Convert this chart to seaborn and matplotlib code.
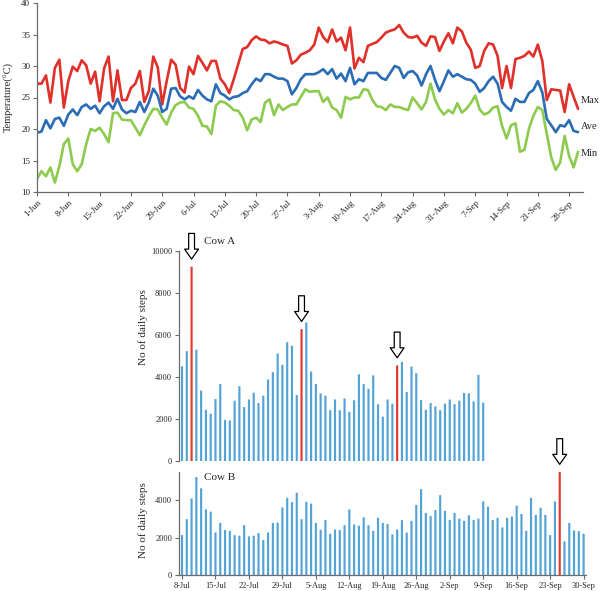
import matplotlib
matplotlib.use("Agg")
import matplotlib.pyplot as plt
import seaborn as sns
import pandas as pd
import numpy as np

# daily temperature, 1-Jun .. 30-Sep
temp_max = [27.2, 27.2, 28.5, 24.2, 29.7, 31.0, 23.4, 27.6, 29.9, 29.2,
            30.9, 30.1, 27.2, 29.1, 24.4, 29.6, 31.5, 24.4, 29.3, 24.6,
            24.6, 26.5, 27.2, 29.2, 24.3, 26.0, 31.5, 29.8, 23.9, 27.6,
            31.0, 30.2, 26.5, 25.8, 29.9, 28.7, 31.6, 30.5, 29.3, 30.8,
            30.8, 28.0, 27.1, 25.7, 27.9, 30.3, 32.7, 33.0, 34.1, 34.7,
            34.2, 34.1, 33.6, 33.9, 33.7, 33.4, 33.2, 30.4, 30.9, 31.8,
            32.1, 32.5, 33.4, 36.1, 34.6, 33.8, 35.8, 33.9, 34.5, 32.5,
            36.1, 29.6, 31.3, 30.6, 33.2, 33.5, 33.8, 34.5, 35.3, 35.6,
            35.8, 36.5, 35.3, 34.6, 34.5, 34.8, 33.7, 33.2, 34.7, 34.6,
            32.4, 33.9, 35.2, 33.6, 36.1, 35.5, 33.7, 32.6, 29.7, 30.0,
            32.4, 33.6, 33.4, 31.6, 26.5, 30.0, 26.5, 31.1, 31.3, 31.6,
            32.3, 31.5, 33.4, 30.8, 24.6, 26.3, 26.2, 26.1, 22.7, 27.1,
            25.1, 23.2]
temp_ave = [19.4, 19.6, 21.4, 20.1, 21.6, 21.8, 20.5, 22.3, 23.1, 22.2,
            23.5, 23.9, 23.2, 23.7, 22.5, 23.6, 24.2, 23.2, 24.8, 23.1,
            22.5, 22.9, 22.7, 24.3, 22.7, 24.2, 26.4, 25.3, 22.7, 23.2,
            26.4, 26.5, 25.2, 24.7, 25.2, 24.8, 26.2, 25.3, 24.7, 24.4,
            27.1, 25.7, 25.3, 24.7, 25.1, 25.2, 25.7, 26.0, 27.1, 28.0,
            27.6, 28.7, 28.7, 28.3, 28.0, 28.0, 27.6, 25.5, 26.5, 27.9,
            28.7, 28.7, 28.7, 29.0, 29.5, 28.7, 29.5, 28.0, 28.8, 27.6,
            29.7, 27.1, 27.9, 27.6, 28.9, 28.9, 28.9, 28.1, 27.8, 28.9,
            30.0, 29.7, 28.1, 29.0, 29.2, 28.5, 26.9, 28.7, 30.0, 27.8,
            26.0, 27.6, 29.3, 28.3, 28.7, 28.3, 27.9, 27.8, 27.2, 25.9,
            26.5, 27.6, 28.3, 27.2, 24.3, 23.5, 22.9, 24.8, 24.3, 24.3,
            25.7, 26.2, 27.6, 25.8, 21.6, 20.6, 19.5, 20.6, 20.4, 21.4,
            19.7, 19.5]
temp_min = [12.1, 13.3, 12.5, 13.9, 11.5, 14.1, 17.6, 18.5, 14.4, 13.3,
            14.4, 17.6, 20.0, 19.7, 20.2, 19.2, 17.9, 22.5, 22.6, 21.5,
            21.4, 21.4, 20.2, 19.0, 20.6, 22.0, 23.2, 23.1, 21.8, 20.7,
            22.6, 23.8, 24.2, 24.3, 23.4, 23.2, 22.1, 20.5, 20.4, 19.2,
            23.7, 24.4, 24.2, 23.7, 23.0, 22.9, 21.8, 19.8, 21.5, 21.8,
            21.1, 24.2, 24.7, 22.2, 23.9, 23.0, 23.5, 23.9, 23.9, 25.1,
            26.3, 25.9, 26.0, 26.0, 24.3, 25.0, 23.4, 23.0, 21.8, 25.1,
            24.7, 25.0, 25.0, 26.3, 26.2, 24.6, 23.6, 23.5, 23.0, 23.9,
            23.5, 23.5, 23.2, 23.0, 25.0, 24.1, 23.1, 24.3, 27.2, 24.7,
            23.2, 22.3, 23.0, 22.5, 24.1, 22.6, 23.2, 24.1, 25.3, 23.1,
            22.3, 22.6, 23.4, 23.6, 20.5, 18.5, 20.6, 20.9, 16.4, 16.7,
            20.0, 22.1, 23.5, 23.0, 19.2, 15.5, 13.5, 14.7, 18.9, 15.7,
            13.9, 16.4]
temp_ticks = ['1-Jun', '8-Jun', '15-Jun', '22-Jun', '29-Jun', '6-Jul', '13-Jul',
              '20-Jul', '27-Jul', '3-Aug', '10-Aug', '17-Aug', '24-Aug', '31-Aug',
              '7-Sep', '14-Sep', '21-Sep', '28-Sep']

# daily steps, from 8-Jul
cow_a_steps = [4510, 5230, 9250, 5300, 3350, 2440, 2250, 2950, 3670, 1960,
               1930, 2870, 3560, 2570, 2930, 3250, 2760, 3110, 3880, 4230,
               5120, 4580, 5660, 5490, 3140, 6280, 6600, 4260, 3670, 3220,
               3110, 2420, 2930, 2420, 2980, 2340, 2890, 4130, 3670, 3440,
               4080, 2700, 2110, 2930, 2730, 4550, 4720, 3290, 4500, 4180,
               2900, 2440, 2760, 2600, 2420, 2730, 2930, 2700, 2870, 3240,
               3220, 2840, 4100, 2780]
cow_a_alert = [2, 25, 45]
cow_b_steps = [2130, 2980, 4090, 5230, 4630, 3510, 3380, 2270, 2780, 2400,
               2360, 2130, 2100, 2660, 2060, 2100, 2240, 1870, 2270, 2780,
               2800, 3610, 4120, 3890, 4390, 2980, 3910, 3810, 2780, 2410,
               2940, 2200, 2430, 2400, 2660, 3510, 2700, 2630, 3080, 2660,
               2360, 3050, 2780, 2730, 2170, 2430, 2930, 2270, 2890, 3740,
               4580, 3310, 3150, 3470, 4260, 3420, 2940, 3310, 3010, 2890,
               3190, 2940, 3010, 3930, 3650, 2940, 3050, 2540, 3050, 3120,
               3700, 3260, 2360, 4120, 3210, 3590, 3210, 2130, 3930, 5500,
               1800, 2780, 2380, 2340, 2200]
cow_b_alert = [79]
step_ticks = ['8-Jul', '15-Jul', '22-Jul', '29-Jul', '5-Aug', '12-Aug', '19-Aug',
              '26-Aug', '2-Sep', '9-Sep', '16-Sep', '23-Sep', '30-Sep']

sns.set_style("ticks")
plt.rcParams['font.family'] = ['Liberation Serif', 'DejaVu Serif']

AX_COL = '#6b6b6b'
line_pal = {'Max': '#e0302a', 'Ave': '#2a6db5', 'Min': '#8dcb4e'}
bar_pal = {'normal': '#52a3d6', 'alert': '#e2382d'}

fig = plt.figure(figsize=(6, 5.91), dpi=100)
ax_t = fig.add_axes([37 / 600, 1 - 192 / 591, 546 / 600, 189 / 591])
ax_a = fig.add_axes([179 / 600, 1 - 461 / 591, 407 / 600, 210 / 591])
ax_b = fig.add_axes([179 / 600, 1 - 575 / 591, 407 / 600, 103 / 591])

# temperature lines
n = len(temp_max)
temps = pd.DataFrame({'day': np.arange(n), 'Max': temp_max, 'Ave': temp_ave, 'Min': temp_min})
temps = temps.melt(id_vars='day', var_name='series', value_name='temp')
sns.lineplot(data=temps, x='day', y='temp', hue='series', palette=line_pal,
             linewidth=1.9, legend=False, ax=ax_t)
ax_t.set_xlim(0, 122.1)
ax_t.set_ylim(10, 40)
ax_t.set_yticks(range(10, 41, 5))
ax_t.set_xticks(range(0, n, 7))
ax_t.set_xticklabels(temp_ticks, rotation=45, ha='right', rotation_mode='anchor')
ax_t.set_xlabel('')
ax_t.set_ylabel('Temperature(°C)', fontsize=7.5)
ax_t.yaxis.set_label_coords(-0.043, 0.5)
for name, yv in [('Max', 24.6), ('Ave', 20.4), ('Min', 16.1)]:
    ax_t.text(121.6, yv, name, fontsize=7.5, va='center', ha='left', clip_on=False)


def draw_steps(ax, steps, alert):
    df = pd.DataFrame({'day': np.arange(len(steps)), 'steps': steps})
    df['flag'] = ['alert' if i in alert else 'normal' for i in df['day']]
    sns.barplot(data=df, x='day', y='steps', hue='flag', palette=bar_pal,
                dodge=False, width=0.45, saturation=1, linewidth=0,
                legend=False, ax=ax)
    for p in ax.patches:
        p.set_snap(False)
    ax.set_xlim(-0.63, 84.5)
    ax.set_xlabel('')
    ax.set_ylabel('No of daily steps', fontsize=8)
    for i in alert:
        ax.annotate('', xy=(i, steps[i]), xytext=(0, 24), textcoords='offset points',
                    arrowprops=dict(arrowstyle='simple,head_length=0.72,head_width=1.0,tail_width=0.42',
                                    fc='white', ec='black', lw=0.9, mutation_scale=10,
                                    shrinkA=0, shrinkB=5.5),
                    annotation_clip=False)


draw_steps(ax_a, cow_a_steps, cow_a_alert)
ax_a.set_ylim(0, 10000)
ax_a.set_yticks(range(0, 10001, 2000))
ax_a.set_xticks([])
ax_a.yaxis.set_label_coords(-0.075, 0.64)
ax_a.text(0.062, 1.045, 'Cow A', transform=ax_a.transAxes, fontsize=8, va='center')

draw_steps(ax_b, cow_b_steps, cow_b_alert)
ax_b.set_ylim(0, 5500)
ax_b.set_yticks([0, 2000, 4000])
ax_b.set_xticks(range(0, 85, 7))
ax_b.set_xticklabels(step_ticks)
ax_b.yaxis.set_label_coords(-0.075, 0.53)
ax_b.text(0.062, 0.95, 'Cow B', transform=ax_b.transAxes, fontsize=8, va='center')

for ax in (ax_t, ax_a, ax_b):
    sns.despine(ax=ax)
    for s in ('left', 'bottom'):
        ax.spines[s].set_color(AX_COL)
        ax.spines[s].set_linewidth(0.9)
    ax.tick_params(length=3, width=0.8, color=AX_COL, labelsize=6.5, pad=2)
ax_a.tick_params(labelsize=6)
ax_b.tick_params(labelsize=6)
# cow A panel has no horizontal axis line
ax_a.spines['bottom'].set_visible(False)

fig.savefig('out.png', dpi=100)
